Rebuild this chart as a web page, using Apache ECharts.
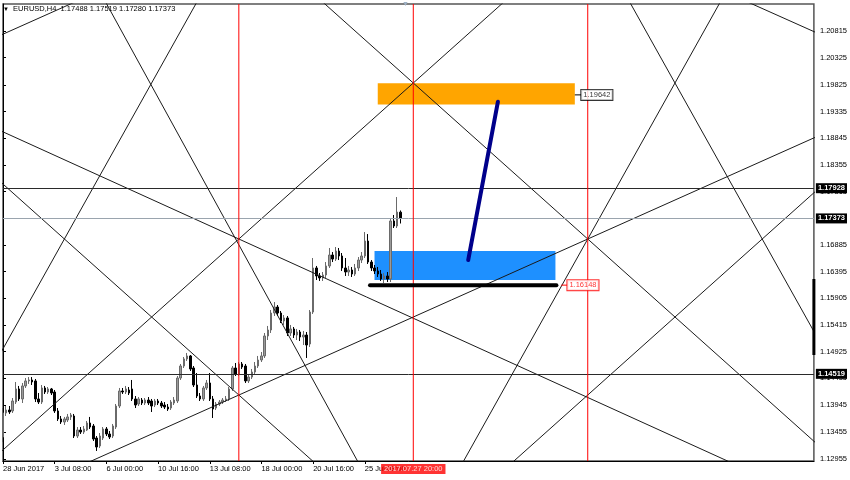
<!DOCTYPE html>
<html>
<head>
<meta charset="utf-8">
<script src="https://cdn.jsdelivr.net/npm/echarts@6/dist/echarts.min.js"></script>
<style>
html,body{margin:0;padding:0;background:#fff;}
#chart{width:850px;height:480px;}
</style>
</head>
<body>
<div id="chart"></div>
<script>
// ---------- DATA ----------
const headerText = 'EURUSD,H4  1.17488 1.17519 1.17280 1.17373';
const timeLabels = ['28 Jun 2017','3 Jul 08:00','6 Jul 00:00','10 Jul 16:00','13 Jul 08:00','18 Jul 00:00','20 Jul 16:00','25 Jul 08:00'];
const timeLabelIndex = [0,16,32,48,64,80,96,112];
const barCount = 252;
const priceMin = 1.12918;
const priceMax = 1.21311;
const priceTicks = [1.20815,1.20325,1.19825,1.19335,1.18845,1.18355,1.17865,1.16885,1.16395,1.15905,1.15415,1.14925,1.14435,1.13945,1.13455,1.12955];

const opens = [
1.13358,1.13800,1.13855,1.13837,1.14001,1.14241,1.14057,1.14296,1.14388,1.14406,
1.14388,1.14057,1.14001,1.14259,1.14185,1.14241,1.14185,1.13837,1.13690,1.13634,
1.13671,1.13727,1.13745,1.13377,1.13487,1.13450,1.13487,1.13616,1.13561,1.13340,
1.13194,1.13340,1.13506,1.13414,1.13377,1.13542,1.13928,1.14204,1.14185,1.14222,
1.14241,1.14057,1.13965,1.14038,1.13983,1.14038,1.14020,1.13946,1.14020,1.13983,
1.13946,1.13909,1.13891,1.13983,1.14020,1.14442,1.14663,1.14792,1.14847,1.14626,
1.14314,1.14112,1.14057,1.14259,1.14351,1.14057,1.13891,1.13965,1.14001,1.14038,
1.14057,1.14241,1.14626,1.14516,1.14700,1.14663,1.14388,1.14460,1.14552,1.14663,
1.14773,1.14847,1.15214,1.15324,1.15636,1.15746,1.15636,1.15490,1.15545,1.15269,
1.15343,1.15232,1.15287,1.15195,1.15232,1.15067,1.15654,1.16463,1.16316,1.16279,
1.16334,1.16500,1.16701,1.16627,1.16774,1.16683,1.16463,1.16389,1.16426,1.16352,
1.16463,1.16609,1.16683,1.16958,1.16572,1.16463,1.16408,1.16352,1.16261,1.16316,
1.16261,1.17326,1.17234,1.17488];
const closes = [
1.13800,1.13855,1.13818,1.14020,1.14241,1.14057,1.14296,1.14388,1.14406,1.14369,
1.14057,1.14001,1.14259,1.14185,1.14241,1.14167,1.13837,1.13690,1.13634,1.13690,
1.13727,1.13763,1.13377,1.13487,1.13450,1.13506,1.13616,1.13542,1.13322,1.13175,
1.13377,1.13506,1.13414,1.13358,1.13561,1.13928,1.14204,1.14185,1.14241,1.14167,
1.14057,1.13946,1.14057,1.13983,1.14038,1.13983,1.13928,1.14020,1.13983,1.13928,
1.13909,1.13873,1.14001,1.14038,1.14442,1.14663,1.14792,1.14847,1.14608,1.14314,
1.14112,1.14057,1.14259,1.14351,1.14057,1.13873,1.13965,1.14001,1.14038,1.14057,
1.14241,1.14626,1.14516,1.14700,1.14644,1.14388,1.14460,1.14552,1.14663,1.14773,
1.14847,1.15214,1.15324,1.15636,1.15746,1.15636,1.15490,1.15545,1.15269,1.15343,
1.15232,1.15287,1.15195,1.15232,1.15048,1.15654,1.16463,1.16316,1.16279,1.16334,
1.16500,1.16701,1.16627,1.16774,1.16683,1.16463,1.16389,1.16426,1.16352,1.16463,
1.16609,1.16683,1.16958,1.16572,1.16463,1.16408,1.16352,1.16261,1.16316,1.16261,
1.17326,1.17234,1.17490,1.17373];
const lows = [
1.13267,1.13745,1.13782,1.13800,1.13965,1.14020,1.13983,1.14259,1.14333,1.14314,
1.14001,1.13965,1.13965,1.14149,1.14149,1.14130,1.13800,1.13653,1.13598,1.13579,
1.13634,1.13671,1.13340,1.13340,1.13414,1.13414,1.13469,1.13506,1.13286,1.13102,
1.13157,1.13304,1.13377,1.13322,1.13340,1.13506,1.13891,1.14149,1.14149,1.14130,
1.14020,1.13891,1.13928,1.13946,1.13946,1.13946,1.13818,1.13909,1.13946,1.13891,
1.13873,1.13837,1.13855,1.13946,1.13983,1.14406,1.14626,1.14755,1.14571,1.14277,
1.14075,1.14020,1.14020,1.14222,1.14020,1.13708,1.13855,1.13928,1.13965,1.14001,
1.14020,1.14204,1.14479,1.14479,1.14608,1.14351,1.14351,1.14424,1.14516,1.14626,
1.14736,1.14810,1.15140,1.15269,1.15581,1.15581,1.15453,1.15416,1.15214,1.15214,
1.15177,1.15140,1.15122,1.15048,1.14810,1.15012,1.15618,1.16242,1.16224,1.16224,
1.16279,1.16463,1.16572,1.16591,1.16609,1.16408,1.16316,1.16316,1.16297,1.16316,
1.16408,1.16554,1.16646,1.16536,1.16408,1.16352,1.16297,1.16224,1.16187,1.16205,
1.16205,1.17197,1.17197,1.17280];
const highs = [
1.13891,1.13928,1.13928,1.14075,1.14369,1.14296,1.14351,1.14442,1.14460,1.14460,
1.14424,1.14167,1.14314,1.14296,1.14277,1.14259,1.14222,1.13891,1.13745,1.13727,
1.13782,1.13800,1.13782,1.13542,1.13542,1.13561,1.13653,1.13727,1.13598,1.13377,
1.13432,1.13542,1.13542,1.13469,1.13598,1.13965,1.14259,1.14259,1.14296,1.14277,
1.14406,1.14112,1.14093,1.14075,1.14075,1.14093,1.14057,1.14057,1.14057,1.14020,
1.14001,1.13965,1.14038,1.14093,1.14479,1.14700,1.14828,1.14902,1.14865,1.14663,
1.14534,1.14167,1.14296,1.14406,1.14534,1.14112,1.14001,1.14038,1.14075,1.14112,
1.14277,1.14663,1.14718,1.14736,1.14736,1.14700,1.14497,1.14608,1.14736,1.14847,
1.14920,1.15269,1.15398,1.15691,1.15838,1.15783,1.15673,1.15599,1.15581,1.15416,
1.15379,1.15343,1.15324,1.15306,1.15287,1.15691,1.16646,1.16500,1.16371,1.16389,
1.16572,1.16830,1.16756,1.16848,1.16830,1.16738,1.16646,1.16500,1.16481,1.16536,
1.16664,1.16756,1.17123,1.17086,1.16609,1.16518,1.16481,1.16426,1.16371,1.16389,
1.17381,1.17436,1.17766,1.17519];

// Gann lines: pairs of [barIndex, price]
const gannLines = [
  [[-10,1.20492],[40,1.21818]],
  [[20,1.22619],[120,1.11808]],
  [[-10,1.13918],[70,1.22407]],
  [[-10,1.19232],[260,1.11955]],
  [[-10,1.18534],[110,1.12167]],
  [[-10,1.12591],[170,1.22142]],
  [[90,1.21823],[270,1.12273]],
  [[10,1.12458],[270,1.19356]],
  [[180,1.22831],[270,1.13281]],
  [[130,1.11583],[230,1.22194]],
  [[220,1.21627],[270,1.20300]],
  [[150,1.12485],[270,1.18852]]
];
const verticalLines = [73,127,181];
const verticalLabelIndex = 127;
const verticalLabel = '2017.07.27 20:00';
const horizontalLines = [1.17928,1.17373,1.14519];
const orangeZone = [[116,1.19855],[177,1.19465]];
const blueZone = [[115,1.16774],[171,1.16242]];
const supportLine = [[113.6,1.16148],[171.3,1.16148]];
const forecastLine = [[144.0,1.16609],[153.2,1.19516]];
const targetPrice = 1.19642;
const supportPrice = 1.16148;
const targetDash = [[177,1.19642],[179,1.19642]];
const supportDash = [[172.8,1.16148],[174.7,1.16148]];
const axisMarker = [[251,1.16261],[251,1.14865]];

// ---------- BUILD ----------
const FONT = 'Liberation Sans';
const categories = Array.from({length: barCount}, (_, i) => {
  const k = timeLabelIndex.indexOf(i);
  return k >= 0 ? timeLabels[k] : '';
});
const candleData = opens.map((o, i) => [o, closes[i], lows[i], highs[i]]);
const showIdx = (idx) => timeLabelIndex.indexOf(idx) >= 0;

const series = [];
series.push({
  type: 'line', xAxisIndex: 1, yAxisIndex: 0, data: [], z: 1, silent: true,
  markArea: {
    silent: true, precision: 5,
    data: [
      [{coord: orangeZone[0], itemStyle: {color: '#ffa500', opacity: 1}}, {coord: orangeZone[1]}],
      [{coord: blueZone[0], itemStyle: {color: '#1e90ff', opacity: 1}}, {coord: blueZone[1]}]
    ]
  }
});
series.push({
  type: 'candlestick', xAxisIndex: 0, yAxisIndex: 0, data: candleData, z: 3,
  barWidth: 2,
  itemStyle: {color: '#9a9a9a', color0: '#000000', borderColor: '#6a6a6a', borderColor0: '#000000', borderWidth: 1}
});
gannLines.forEach(seg => series.push({
  type: 'line', xAxisIndex: 1, yAxisIndex: 0, data: seg, symbol: 'none', clip: true, z: 4, silent: true,
  lineStyle: {color: '#1a1a1a', width: 1}
}));
// red vertical time lines
verticalLines.forEach(v => series.push({
  type: 'line', xAxisIndex: 1, yAxisIndex: 0, data: [[v, priceMin], [v, priceMax]], symbol: 'none',
  z: 5, silent: true, clip: true,
  lineStyle: {color: '#ff0000', width: 1, opacity: 1}
}));
// horizontal price lines
const hColors = ['#2a2a2a', '#9aa4ae', '#2a2a2a'];
horizontalLines.forEach((h, k) => series.push({
  type: 'line', xAxisIndex: 1, yAxisIndex: 0, data: [], z: 5, silent: true, color: hColors[k],
  markLine: {
    silent: true, symbol: ['none','none'], animation: false, precision: 5,
    lineStyle: {color: hColors[k], width: 1, type: 'solid', opacity: 1},
    label: {show: true, position: 'end', formatter: h.toFixed(5), backgroundColor: '#000', color: '#fff',
      fontSize: 7.5, fontWeight: 'bold', fontFamily: FONT, padding: [1, 2], distance: 2},
    data: [{yAxis: h}]
  }
}));
series.push({
  type: 'line', xAxisIndex: 1, yAxisIndex: 0, data: supportLine, symbol: 'none', z: 6, silent: true,
  lineStyle: {color: '#000', width: 4, cap: 'round'}
});
series.push({
  type: 'line', xAxisIndex: 1, yAxisIndex: 0, data: forecastLine, symbol: 'none', z: 6, silent: true,
  lineStyle: {color: '#00008b', width: 4, cap: 'round'}
});
series.push({
  type: 'line', xAxisIndex: 1, yAxisIndex: 0, data: targetDash, symbol: 'none', z: 6, silent: true, clip: false,
  lineStyle: {color: '#000', width: 1}
});
series.push({
  type: 'line', xAxisIndex: 1, yAxisIndex: 0, data: supportDash, symbol: 'none', z: 6, silent: true, clip: false,
  lineStyle: {color: '#ff0000', width: 1}
});
series.push({
  type: 'line', xAxisIndex: 1, yAxisIndex: 0, data: axisMarker, symbol: 'none', z: 6, silent: true, clip: false,
  lineStyle: {color: '#000', width: 3}
});
series.push({
  type: 'scatter', xAxisIndex: 1, yAxisIndex: 0, symbolSize: 0, z: 7, silent: true,
  data: [
    {value: targetDash[1], label: {formatter: targetPrice.toFixed(5), color: '#000', borderColor: '#000'}},
    {value: supportDash[1], label: {formatter: supportPrice.toFixed(5), color: '#ff0000', borderColor: '#ff0000'}}
  ],
  label: {show: true, position: 'right', distance: 0, backgroundColor: '#fff', borderWidth: 1,
    padding: [1, 2], fontSize: 7.5, fontFamily: FONT}
});
series.push({
  type: 'scatter', xAxisIndex: 1, yAxisIndex: 0, symbolSize: 0, z: 8, silent: true, clip: false,
  data: [[verticalLabelIndex, priceMin]],
  label: {show: true, position: 'bottom', distance: 3, formatter: verticalLabel, backgroundColor: '#ff0000',
    color: '#fff', fontSize: 7.5, fontFamily: FONT, padding: [1, 3]}
});

const option = {
  animation: false,
  backgroundColor: '#fff',
  title: {
    text: '{t|▼}  ' + headerText, left: 3, top: 5, padding: 0,
    textStyle: {fontSize: 7.5, fontWeight: 'normal', color: '#000', fontFamily: FONT,
      rich: {t: {fontSize: 6, color: '#000'}}}
  },
  graphic: [{type: 'text', left: 402, top: 1, z: 10,
    style: {text: '▼', fill: '#9fb2c6', fontSize: 7, fontFamily: FONT}}],
  grid: {left: 2, right: 35, top: 4, bottom: 19, show: true, borderColor: '#555', borderWidth: 1.5, backgroundColor: '#fff'},
  xAxis: [
    {
      type: 'category', data: categories, boundaryGap: false, position: 'bottom',
      axisLine: {show: true, onZero: false, lineStyle: {color: '#000', width: 1}},
      axisTick: {show: true, interval: showIdx, length: 3, lineStyle: {color: '#000'}},
      axisLabel: {show: true, interval: showIdx, align: 'left', margin: 4, fontSize: 7.5, color: '#000', fontFamily: FONT},
      splitLine: {show: false}
    },
    {type: 'value', min: 0, max: barCount - 1, show: false}
  ],
  yAxis: [{
    type: 'value', position: 'right', min: priceMin, max: priceMax, scale: true,
    axisLine: {show: true, lineStyle: {color: '#000', width: 1}},
    axisTick: {show: true, customValues: priceTicks, length: 3, lineStyle: {color: '#000'}},
    axisLabel: {show: true, customValues: priceTicks, formatter: v => v.toFixed(5), fontSize: 7.5, margin: 6,
      color: '#000', fontFamily: FONT},
    splitLine: {show: false}
  }],
  series: series
};
const chart = echarts.init(document.getElementById('chart'), null, {renderer: 'canvas'});
chart.setOption(option);
</script>
</body>
</html>
